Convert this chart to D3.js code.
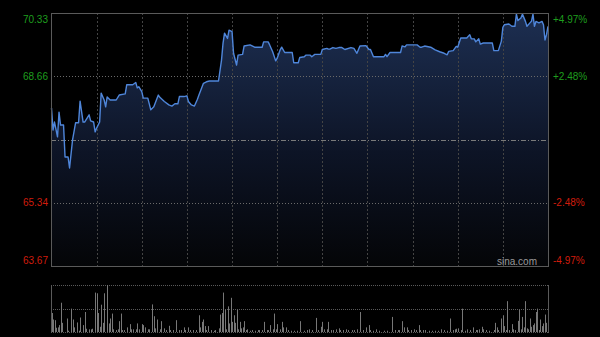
<!DOCTYPE html>
<html>
<head>
<meta charset="utf-8">
<script src="https://cdn.jsdelivr.net/npm/d3@7"></script>
<style>
  body { margin: 0; background: #000; }
  svg { display: block; }
</style>
</head>
<body>
<div id="chart"></div>
<script>
// intraday price, minutes since 9:30 (HK session, 330 min incl. lunch join)
const prevClose = 67.00;
const priceMinutes = [0,1,2,4,5,6,8,9,11,12,14,16,18,19,21,22,25,26,28,29,30,32,33,35,36,37,39,43,45,49,50,54,56,57,58,60,61,64,66,68,
  71,72,75,78,80,82,84,85,88,90,91,93,95,97,98,101,103,105,111,113,114,115,117,118,120,121,123,124,127,128,132,135,
  140,141,144,145,147,149,150,152,153,155,160,161,164,165,168,169,172,173,175,179,180,183,184,185,187,189,191,193,195,199,201,203,205,
  209,211,212,214,221,222,223,225,232,233,235,236,243,245,246,248,252,255,258,261,263,264,
  267,269,270,272,276,278,279,281,282,284,285,287,293,294,297,299,300,301,304,306,308,309,310,312,313,315,316,318,319,320,321,322,324,326,327,328,329,330];
const prices = [67.83,67.25,67.46,67.07,67.72,67.38,67.38,66.54,66.54,66.25,66.99,67.44,67.44,68.01,67.46,67.46,67.65,67.49,67.46,67.20,67.30,67.46,68.22,68.04,67.86,68.12,68.04,68.04,68.17,68.20,68.44,68.44,68.50,68.36,68.39,68.26,68.09,68.09,67.78,67.86,
  68.17,68.11,68.00,67.91,67.88,67.94,67.94,68.13,68.13,68.15,68.00,67.91,67.88,68.06,68.17,68.48,68.52,68.54,68.54,69.09,69.53,69.80,69.66,69.88,69.84,69.27,68.96,69.22,69.24,69.46,69.49,69.43,
  69.43,69.57,69.57,69.49,69.31,69.07,69.14,69.36,69.43,69.29,69.29,69.02,69.02,69.16,69.18,69.22,69.22,69.18,69.24,69.24,69.37,69.40,69.38,69.38,69.42,69.40,69.42,69.42,69.37,69.42,69.40,69.27,69.46,
  69.47,69.37,69.37,69.18,69.18,69.24,69.18,69.29,69.29,69.46,69.44,69.49,69.49,69.43,69.43,69.46,69.43,69.36,69.31,69.27,69.23,69.32,
  69.34,69.45,69.43,69.67,69.67,69.76,69.65,69.65,69.57,69.65,69.51,69.54,69.54,69.34,69.34,69.59,69.95,70.02,70.04,69.98,69.98,70.30,70.13,70.20,70.30,70.11,69.98,70.07,70.11,70.30,69.98,70.11,70.07,70.11,70.02,69.62,69.76,69.98];

// volume per minute (relative units)
const volMinutes = [0,1,2,3,4,5,6,7,10,11,13,14,15,17,18,19,21,22,23,25,26,27,29,30,31,32,33,34,35,37,38,39,40,41,43,44,45,46,47,48,50,52,53,54,56,57,58,60,61,62,64,65,
  67,68,69,70,72,73,75,76,78,79,81,83,85,86,88,89,91,92,94,96,98,99,100,101,102,103,104,106,108,109,111,112,113,114,115,116,117,118,119,120,121,122,123,124,125,126,127,128,129,130,132,133,135,137,138,140,141,143,144,145,147,148,149,150,152,153,154,156,157,159,161,163,
  165,168,170,171,173,176,177,179,180,181,183,184,186,187,189,191,192,194,196,197,200,201,203,205,207,209,211,212,214,216,218,221,223,226,228,230,231,233,234,236,237,239,241,242,244,245,247,248,251,253,255,257,259,261,263,
  265,267,268,269,270,272,273,275,276,278,280,282,283,284,286,287,289,291,294,295,296,297,299,300,301,302,303,304,306,307,308,310,311,312,313,314,315,316,317,318,319,320,321,322,323,324,325,326,327,328,329];
const volumes = [193,127,120,43,47,70,297,93,137,13,237,127,47,97,13,147,70,203,33,27,27,33,400,393,193,53,277,93,393,477,87,137,187,27,20,27,110,187,20,20,47,80,27,27,27,87,27,80,70,47,27,27,
  280,160,37,127,27,110,37,20,63,20,20,120,20,20,47,20,47,20,20,20,170,47,103,127,60,20,60,20,13,20,37,177,193,400,227,27,260,87,347,103,170,93,227,27,103,37,47,110,20,27,13,20,13,20,20,20,103,20,20,70,27,187,27,80,27,103,47,47,20,13,13,13,
  110,13,20,27,20,143,20,53,103,27,27,103,20,20,27,37,20,20,27,20,20,20,27,203,20,47,70,20,13,27,13,13,13,153,20,20,20,110,47,47,20,20,27,20,70,20,20,20,13,13,13,13,27,20,13,
  137,20,27,33,37,20,237,13,27,20,47,20,20,27,53,27,20,13,20,93,47,20,137,170,60,20,313,20,80,27,20,113,227,27,153,47,313,37,27,137,53,70,87,203,237,20,127,60,87,177,93];

const priceTicks = [70.33, 68.66, 65.34, 63.67];
const pctLabels = ["+4.97%", "+2.48%", "-2.48%", "-4.97%"];
const gridMinutes = [30, 60, 90, 120, 150, 180, 210, 240, 270, 300];

const width = 600, height = 337;
const plot = { left: 51, right: 548, top: 13, bottom: 266 };
const vol = { top: 285, bottom: 332 };

const svg = d3.select("#chart").append("svg")
  .attr("width", width)
  .attr("height", height)
  .style("background", "#000");

const x = d3.scaleLinear().domain([0, 330]).range([plot.left + 0.5, plot.right]);
const y = d3.scaleLinear().domain([63.67, 70.33]).range([plot.bottom, plot.top]);
const yVol = d3.scaleLinear().domain([0, d3.max(volumes)]).range([vol.bottom, vol.top]);

const data = priceMinutes.map((m, i) => ({ m: m, p: prices[i] }));

// area gradient
const grad = svg.append("defs").append("linearGradient")
  .attr("id", "area-grad")
  .attr("gradientUnits", "userSpaceOnUse")
  .attr("x1", 0).attr("y1", plot.top)
  .attr("x2", 0).attr("y2", plot.bottom);
grad.append("stop").attr("offset", "0%").attr("stop-color", "#1d2f52");
grad.append("stop").attr("offset", "55%").attr("stop-color", "#0d1426");
grad.append("stop").attr("offset", "100%").attr("stop-color", "#040507");

svg.append("path")
  .datum(data)
  .attr("fill", "url(#area-grad)")
  .attr("d", d3.area().x(d => x(d.m)).y0(plot.bottom).y1(d => y(d.p)));

// vertical grid
svg.append("g").selectAll("line")
  .data(gridMinutes)
  .join("line")
  .attr("x1", d => Math.round(x(d)) + 0.5)
  .attr("x2", d => Math.round(x(d)) + 0.5)
  .attr("y1", plot.top)
  .attr("y2", plot.bottom)
  .attr("stroke", "#444")
  .attr("stroke-dasharray", "2,2");

// horizontal grid (inner ticks)
svg.append("g").selectAll("line")
  .data(priceTicks.slice(1, 3))
  .join("line")
  .attr("x1", plot.left)
  .attr("x2", plot.right)
  .attr("y1", d => Math.round(y(d)) + 0.5)
  .attr("y2", d => Math.round(y(d)) + 0.5)
  .attr("stroke", "#6a6a6a")
  .attr("stroke-dasharray", "1,2");

// previous close line
svg.append("line")
  .attr("x1", plot.left)
  .attr("x2", plot.right)
  .attr("y1", Math.round(y(prevClose)) + 0.5)
  .attr("y2", Math.round(y(prevClose)) + 0.5)
  .attr("stroke", "#7a7a7a")
  .attr("stroke-dasharray", "5,2,1,2");

// price line
svg.append("path")
  .datum(data)
  .attr("fill", "none")
  .attr("stroke", "#4f86da")
  .attr("stroke-width", 1.4)
  .attr("stroke-linejoin", "round")
  .attr("d", d3.line().x(d => x(d.m)).y(d => y(d.p)));

// frame
svg.append("rect")
  .attr("x", plot.left + 0.5)
  .attr("y", plot.top + 0.5)
  .attr("width", plot.right - plot.left)
  .attr("height", plot.bottom - plot.top)
  .attr("fill", "none")
  .attr("stroke", "#5a5a5a");

// left price labels
const tickColor = (d) => d >= prevClose ? "#1e9e1e" : "#d01c0c";
const tickShift = (i) => i === 0 ? 6 : (i === priceTicks.length - 1 ? -6 : 0);

svg.append("g").selectAll("text")
  .data(priceTicks)
  .join("text")
  .attr("x", 48)
  .attr("y", (d, i) => y(d) + tickShift(i))
  .attr("dy", "0.36em")
  .attr("text-anchor", "end")
  .attr("fill", d => tickColor(d))
  .style("font", "10px 'Liberation Sans', Arial, sans-serif")
  .text(d => d.toFixed(2));

svg.append("g").selectAll("text")
  .data(priceTicks)
  .join("text")
  .attr("x", 553)
  .attr("y", (d, i) => y(d) + tickShift(i))
  .attr("dy", "0.36em")
  .attr("text-anchor", "start")
  .attr("fill", d => tickColor(d))
  .style("font", "10px 'Liberation Sans', Arial, sans-serif")
  .text((d, i) => pctLabels[i]);

// watermark
svg.append("text")
  .attr("x", 537)
  .attr("y", 265)
  .attr("text-anchor", "end")
  .attr("fill", "#9a9a9a")
  .style("font", "10px 'Liberation Sans', Arial, sans-serif")
  .text("sina.com");

// volume panel
const vg = svg.append("g");
[vol.top, (vol.top + vol.bottom) / 2, vol.bottom].forEach(v => {
  vg.append("line")
    .attr("x1", plot.left)
    .attr("x2", plot.right)
    .attr("y1", Math.round(v) + 0.5)
    .attr("y2", Math.round(v) + 0.5)
    .attr("stroke", "#5a5a5a")
    .attr("stroke-dasharray", "1,1");
});
[plot.left, plot.right].forEach(v => {
  vg.append("line")
    .attr("x1", v + 0.5).attr("x2", v + 0.5)
    .attr("y1", vol.top).attr("y2", vol.bottom + 1)
    .attr("stroke", "#5a5a5a");
});

vg.selectAll("rect.bar")
  .data(volMinutes.map((m, i) => ({ m: m, v: volumes[i] })))
  .join("rect")
  .attr("class", "bar")
  .attr("x", d => Math.round(x(d.m)))
  .attr("width", 1)
  .attr("y", d => yVol(d.v))
  .attr("height", d => vol.bottom - yVol(d.v))
  .attr("fill", "#777");
</script>
</body>
</html>
